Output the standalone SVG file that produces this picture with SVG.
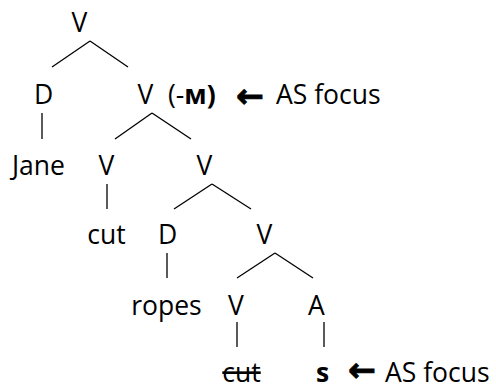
<svg xmlns="http://www.w3.org/2000/svg" width="496" height="389" viewBox="0 0 496 389">
<style>
text{font-family:"Open Sans","Liberation Sans",sans-serif;font-size:26.5px;fill:#000;text-anchor:middle}
.s{text-anchor:start}
.b{font-weight:bold}
.arr{font-family:"DejaVu Sans",sans-serif;font-weight:bold;font-size:33px;text-anchor:start;stroke:#000;stroke-width:1}
#edges line{stroke:#000;stroke-width:1.3;fill:none}
</style>
<rect width="496" height="389" fill="#fff"/>
<g id="edges">
<line x1="90" y1="41" x2="52" y2="67"/>
<line x1="90" y1="41" x2="128" y2="67"/>
<line x1="42" y1="113" x2="42" y2="139"/>
<line x1="152" y1="113" x2="115" y2="139"/>
<line x1="152" y1="113" x2="191" y2="139"/>
<line x1="107" y1="184" x2="107" y2="209"/>
<line x1="212" y1="184" x2="174" y2="209"/>
<line x1="212" y1="184" x2="251" y2="209"/>
<line x1="167" y1="253" x2="167" y2="278"/>
<line x1="275" y1="253" x2="237" y2="278"/>
<line x1="275" y1="253" x2="313" y2="278"/>
<line x1="237" y1="322" x2="237" y2="347"/>
<line x1="324" y1="322" x2="324" y2="347"/>
</g>
<g id="n-root"><text x="79.5" y="32">V</text></g>
<g id="n-d1"><text x="43.5" y="104">D</text></g>
<g id="n-v1"><text x="145.5" y="104">V</text><text class="s" x="168" y="104">(-<tspan class="b">м)</tspan></text></g>
<g id="note1"><text class="arr" x="236" y="107">←</text><text class="s" x="276" y="104">AS focus</text></g>
<g id="n-jane"><text x="38.5" y="175">Jane</text></g>
<g id="n-v2"><text x="106.5" y="175">V</text></g>
<g id="n-v3"><text x="204.5" y="175">V</text></g>
<g id="n-cut1"><text x="106.5" y="244">cut</text></g>
<g id="n-d2"><text x="167.5" y="244">D</text></g>
<g id="n-v4"><text x="264.5" y="244">V</text></g>
<g id="n-ropes"><text x="166.5" y="315">ropes</text></g>
<g id="n-v5"><text x="236" y="315">V</text></g>
<g id="n-a"><text x="316.5" y="315">A</text></g>
<g id="n-cut2"><text x="241.5" y="382" text-decoration="line-through">cut</text></g>
<g id="n-s"><text class="b" x="322.5" y="382">s</text></g>
<g id="note2"><text class="arr" x="348" y="381">←</text><text class="s" x="385" y="382">AS focus</text></g>
</svg>
